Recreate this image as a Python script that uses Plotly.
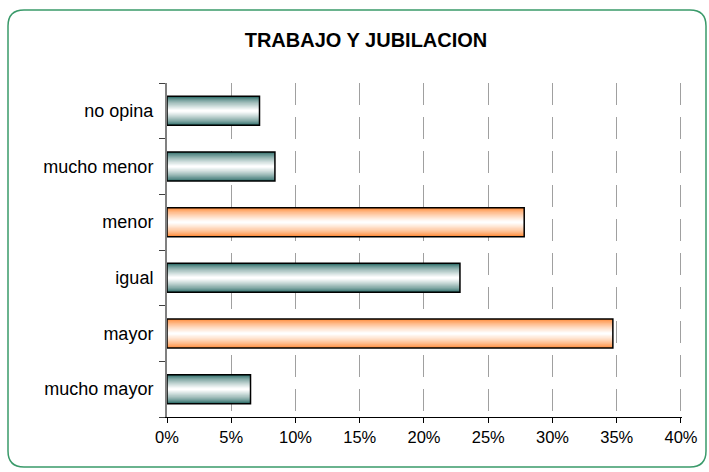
import plotly.graph_objects as go

categories = ["mucho mayor", "mayor", "igual", "menor", "mucho menor", "no opina"]
values = [6.5, 34.7, 22.8, 27.8, 8.4, 7.2]
highlight = [False, True, False, True, False, False]
x_ticks = [0, 5, 10, 15, 20, 25, 30, 35, 40]
title_text = "TRABAJO Y JUBILACION"

W, H = 709, 472
ML, MR, MT, MB = 167, 27, 83, 55
x_max = 40.08

teal = (40, 105, 100)
orange = (255, 135, 50)

def mix(c, t):
    return "rgb(%d,%d,%d)" % tuple(round(a + (255 - a) * t) for a in c)

fig = go.Figure()
N = 14
bw = 0.52
for i in range(N):
    t = (i / (N - 1)) ** 0.7
    w = bw * (1 - i / N)
    cols = [mix(orange if h else teal, t) for h in highlight]
    fig.add_trace(go.Bar(y=categories, x=values, orientation="h", width=w,
                         marker=dict(color=cols, line=dict(width=0)),
                         hoverinfo="skip", showlegend=False))
fig.add_trace(go.Bar(y=categories, x=values, orientation="h", width=bw,
                     marker=dict(color="rgba(0,0,0,0)", line=dict(color="black", width=1.5)),
                     showlegend=False))

# rounded border
pw, ph = W - ML - MR, H - MT - MB
def px(x): return (x - ML) / pw
def py(y): return (H - MB - y) / ph
x0, x1, y0, y1, r = 8, 706, 10, 467, 16
path = (f"M {px(x0+r)},{py(y0)} L {px(x1-r)},{py(y0)} Q {px(x1)},{py(y0)} {px(x1)},{py(y0+r)} "
        f"L {px(x1)},{py(y1-r)} Q {px(x1)},{py(y1)} {px(x1-r)},{py(y1)} "
        f"L {px(x0+r)},{py(y1)} Q {px(x0)},{py(y1)} {px(x0)},{py(y1-r)} "
        f"L {px(x0)},{py(y0+r)} Q {px(x0)},{py(y0)} {px(x0+r)},{py(y0)} Z")
fig.add_shape(type="path", path=path, xref="paper", yref="paper",
              line=dict(color="#3a9a6a", width=1.5), layer="below")

fig.update_layout(
    width=W, height=H, barmode="overlay",
    margin=dict(l=ML, r=MR, t=MT, b=MB, autoexpand=False),
    paper_bgcolor="white", plot_bgcolor="white",
    font=dict(family="Liberation Sans, Arial, sans-serif", color="black", size=17),
    title=dict(text="<b>" + title_text + "</b>", x=366 / W, xanchor="center",
               y=1 - 40 / H, yanchor="middle", yref="container",
               font=dict(size=20, color="black")),
    xaxis=dict(range=[0, x_max], tickvals=x_ticks, ticktext=[f"{v}%" for v in x_ticks],
               showgrid=True, gridcolor="#a0a0a0", griddash="22px,12px", gridwidth=1,
               zeroline=False, showline=True, linecolor="black", linewidth=1,
               ticks="outside", ticklen=5, tickcolor="black",
               tickfont=dict(size=16.5)),
    yaxis=dict(categoryorder="array", categoryarray=categories,
               showgrid=False, zeroline=False, showline=True, linecolor="#808080", linewidth=2,
               ticks="outside", ticklen=6, tickcolor="#404040", tickson="boundaries",
               ticklabelstandoff=8, tickfont=dict(size=18)),
)
fig.write_html("out.html", config={"displayModeBar": False},
               post_script="document.body.style.margin='0px';document.body.style.overflow='hidden';")
